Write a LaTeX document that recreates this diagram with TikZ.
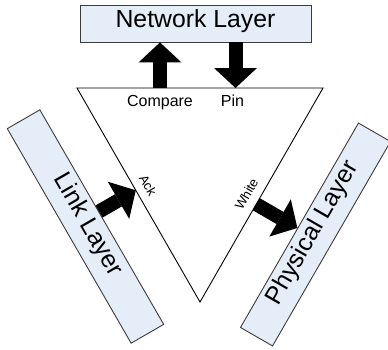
\documentclass[tikz,border=0pt]{standalone}
\usepackage{fontspec}
\setmainfont{Liberation Sans}
\usetikzlibrary{arrows.meta,calc}
\definecolor{boxfill}{RGB}{229,237,248}
\definecolor{boxline}{RGB}{60,60,60}
\begin{document}
\begin{tikzpicture}[x=1pt,y=1pt,
  layer/.style={draw=boxline, fill=boxfill, line width=0.9pt, inner sep=0pt,
    text height=0.72em, text depth=0pt, font=\fontsize{24.8}{28}\selectfont},
  fat/.style={line width=14pt, -{Triangle[width=43pt,length=20pt,line width=0pt]}},
  lbl/.style={inner sep=0pt, font=\fontsize{16}{19}\selectfont},
  small/.style={inner sep=0pt, font=\fontsize{13}{15}\selectfont}]
\useasboundingbox (0,0) rectangle (388,-349);
% layer boxes
\node[layer, minimum width=231, minimum height=37] (net) at (195.5,-23.5) {Network Layer};
\node[layer, rotate=-60, minimum width=247.7, minimum height=37.6] (link) at (85.5,-226.5) {Link Layer};
\node[layer, rotate=60, minimum width=236, minimum height=37] (phys) at (315.5,-234.5) {Physical Layer};
% triangle
\coordinate (tl) at (77,-88);
\coordinate (tr) at (323,-88);
\coordinate (bt) at (200,-302);
\draw[line width=0.9pt, line join=miter] (tl) -- (tr) -- (bt) -- cycle;
% block arrows
\coordinate (cmp) at (160,-88);
\draw[fat] (cmp) -- (cmp |- net.south);
\coordinate (pin) at (235.5,-88);
\draw[fat] (pin |- net.south) -- (pin);
\coordinate (ackTip) at ($(tl)!0.478!(bt)$);
\draw[fat] ($(link.north west)!(ackTip)!(link.north east)$) -- (ackTip);
\coordinate (whTail) at ($(tr)!0.543!(bt)$);
\draw[fat] (whTail) -- ($(phys.north west)!(whTail)!(phys.north east)$);
% labels
\node[lbl, anchor=base] (cmpL) at (160,-106.5) {Compare};
\node[lbl, anchor=base] (pinL) at (232.5,-106.5) {Pin};
\node[small, rotate=-60] (ackL) at (148,-185.5) {Ack};
\node[small, rotate=60] (whL) at (246.5,-194) {White};
\end{tikzpicture}
\end{document}
